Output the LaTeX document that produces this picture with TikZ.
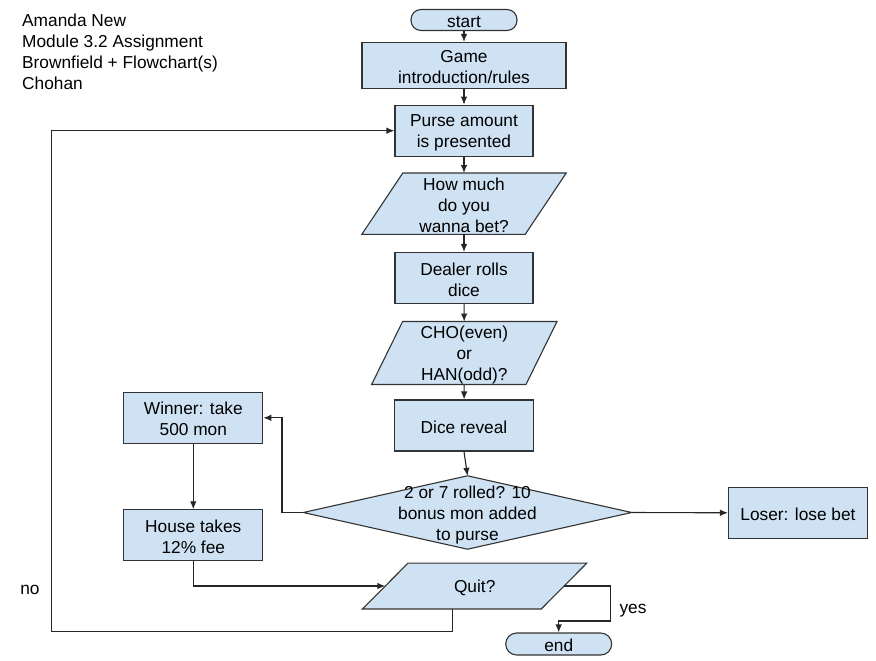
\documentclass[tikz,border=0pt]{standalone}
\usepackage{fontspec}
\setmainfont{Liberation Sans}
\usetikzlibrary{arrows.meta,calc}
\definecolor{boxfill}{HTML}{CFE2F3}
\definecolor{boxline}{HTML}{333333}
\definecolor{lineclr}{HTML}{262626}
\newcommand\fcTop{\rule{0pt}{17pt}}
\newcommand\fcBot{\rule[-2pt]{0pt}{2pt}}
\pgfdeclarelayer{bglayer}
\pgfdeclarelayer{shapelayer}
\pgfsetlayers{bglayer,shapelayer,main}
\begin{document}
\begin{tikzpicture}[x=1pt,y=-1pt,
  font=\fontsize{17.3}{21}\selectfont,
  box/.style={draw=boxline, fill=boxfill, line width=1.1pt, align=center, inner sep=0pt},
  term/.style={box, rounded corners=10pt},
  pbox/.style={align=center, inner sep=0pt},
  pshape/.style={draw=boxline, fill=boxfill, line width=1.1pt},
  conn/.style={draw=lineclr, line width=1.1pt, -{Latex[length=8pt,width=6.5pt]}},
  lbl/.style={inner sep=0pt}]
\begin{pgfonlayer}{bglayer}
\fill[white] (0,0) rectangle (876,661);
\end{pgfonlayer}
\useasboundingbox (0,0) rectangle (876,661);

% title
\node[lbl, anchor=west, align=left] (title) at (22,51.5) {Amanda New\\Module 3.2 Assignment\\Brownfield + Flowchart(s)\\Chohan};

% main column
\node[term, minimum width=106pt, minimum height=21pt] (start) at (464,20) {\fcTop start\fcBot};
\node[box, minimum width=204pt, minimum height=46pt] (game) at (464,65.5) {\fcTop Game\\introduction/rules\fcBot};
\node[box, minimum width=138pt, minimum height=51pt] (purse) at (464,130.7) {\fcTop Purse amount\\is presented\fcBot};
\node[pbox, minimum width=204pt, minimum height=61pt] (bet) at (464,203.7) {\fcTop How much\\do you\\wanna bet?\fcBot};
\node[box, minimum width=138pt, minimum height=51pt] (roll) at (464,278) {\fcTop Dealer rolls\\dice\fcBot};
\node[pbox, minimum width=185pt, minimum height=61pt] (cho) at (464.3,353) {\fcTop CHO(even)\\or\\HAN(odd)?\fcBot};
\node[box, minimum width=139pt, minimum height=51pt] (reveal) at (464,425.5) {\fcTop Dice reveal\fcBot};
\node[pbox, minimum width=328pt, minimum height=73pt] (dia) at (467.5,512.5) {\fcTop 2 or 7 rolled? 10\\bonus mon added\\to purse\fcBot};
\node[box, minimum width=139pt, minimum height=51pt] (win) at (193.3,417.8) {\fcTop Winner: take\\500 mon\fcBot};
\node[box, minimum width=139pt, minimum height=51pt] (house) at (193.3,535.3) {\fcTop House takes\\12\% fee\fcBot};
\node[box, minimum width=139pt, minimum height=51pt] (lose) at (798,512.8) {\fcTop Loser: lose bet\fcBot};
\node[pbox, minimum width=224pt, minimum height=45.5pt] (quit) at (474.7,586) {\fcTop Quit?\fcBot};
\node[term, minimum width=106pt, minimum height=22pt, rounded corners=11pt] (fin) at (558.7,644) {\fcTop end\fcBot};

\node[lbl] (yes) at (633,606.7) {\fcTop yes\fcBot};
\node[lbl] (no) at (30,586.7) {\fcTop no\fcBot};

% shapes drawn behind the text nodes
\begin{pgfonlayer}{shapelayer}
\draw[pshape] ($(bet.north west)+(41,0)$) -- (bet.north east) -- ($(bet.south east)+(-41,0)$) -- (bet.south west) -- cycle;
\draw[pshape] ($(cho.north west)+(31,0)$) -- (cho.north east) -- ($(cho.south east)+(-31,0)$) -- (cho.south west) -- cycle;
\draw[pshape] (dia.north) -- (dia.east) -- (dia.south) -- (dia.west) -- cycle;
\draw[pshape] ($(quit.north west)+(45.6,0)$) coordinate (qtl) -- (quit.north east) coordinate (qtr)
  -- ($(quit.south east)+(-45.6,0)$) coordinate (qbr) -- (quit.south west) coordinate (qbl) -- cycle;
\end{pgfonlayer}
\coordinate (qL) at ($(qtl)!0.5!(qbl)$);
\coordinate (qR) at ($(qtr)!0.5!(qbr)$);
\coordinate (qB) at ($(quit.south)+(-22.4,0)$);
\coordinate (lowL) at (51.7,631.7);
\coordinate (yesc) at (610.7,621);
\coordinate (winx) at (282,0);

% connectors
\draw[conn] (start) -- (game);
\draw[conn] (game) -- (purse);
\draw[conn] (purse) -- (bet);
\draw[conn] (bet) -- (roll);
\draw[conn] (roll) -- (cho);
\draw[conn] (cho) -- (reveal);
\draw[conn] (reveal.south) -- (dia.north);
\draw[conn] (dia.east) -- (lose.west);
\draw[conn] (dia.west) -- (dia.west -| winx) |- (win.east);
\draw[conn] (win) -- (house);
\draw[conn] (house.south) |- (qL);
\draw[conn] (qR) -| (yesc) -| (fin.north);
\draw[conn] (qB) -- (qB |- lowL) -- (lowL) |- (purse.west);
\end{tikzpicture}
\end{document}
